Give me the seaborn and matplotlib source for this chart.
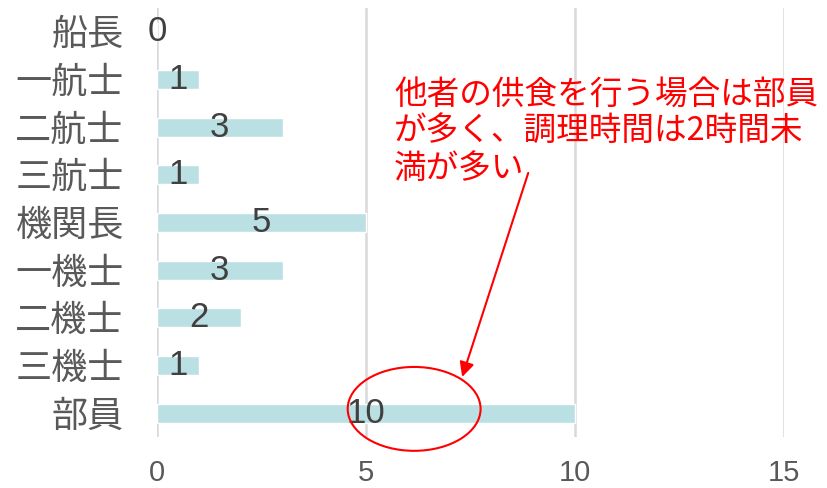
import matplotlib
matplotlib.use("Agg")
import matplotlib.pyplot as plt
from matplotlib.patches import Ellipse
import seaborn as sns
import pandas as pd

# Crew positions and how many of each cook for others
positions = ["船長", "一航士", "二航士", "三航士", "機関長", "一機士", "二機士", "三機士", "部員"]
counts = [0, 1, 3, 1, 5, 3, 2, 1, 10]
x_ticks = [0, 5, 10, 15]
note = "他者の供食を行う場合は部員\nが多く、調理時間は2時間未\n満が多い"

sns.set_theme(style="white")
plt.rcParams["font.family"] = ["Liberation Sans", "Noto Sans CJK JP", "DejaVu Sans"]

df = pd.DataFrame({"position": positions, "count": counts})

fig = plt.figure(figsize=(8.27, 4.88), dpi=100)
ax = fig.add_axes([0.19, 0.1045, 0.758, 0.879])

sns.barplot(data=df, x="count", y="position", orient="h", color="#bbe0e3",
            width=0.4, saturation=1, ax=ax)

ax.set_xlim(0, 15)
ax.set_ylim(len(positions) - 0.5, -0.5)
ax.set_xticks(x_ticks)
ax.set_xlabel("")
ax.set_ylabel("")
for s in ax.spines.values():
    s.set_visible(False)
ax.grid(axis="x", color="#d9d9d9", linewidth=1.8)
ax.grid(axis="y", visible=False)
ax.set_axisbelow(True)
ax.tick_params(axis="y", length=0, pad=24, labelsize=26, labelcolor="#595959")
ax.tick_params(axis="x", length=0, pad=16, labelsize=21, labelcolor="#595959")

ax.bar_label(ax.containers[0], labels=[str(v) for v in counts], label_type="center",
             fontsize=25, color="#404040")

# Highlight on the 部員 bar with a pointer from the note
ax.add_patch(Ellipse((6.15, 7.91), 3.18, 1.76, fill=False, edgecolor="red",
                     linewidth=1.5, clip_on=False, zorder=5))
ax.annotate("", xy=(7.3, 7.24), xytext=(8.88, 2.96),
            arrowprops=dict(arrowstyle="-|>", color="red", lw=1.5,
                            mutation_scale=22, shrinkA=0, shrinkB=0),
            annotation_clip=False, zorder=6)

fig.text(394 / 827, 1 - 79 / 488, note, ha="left", va="top", color="red",
         fontsize=23.5, linespacing=1.2,
         family=["Noto Sans CJK JP", "DejaVu Sans"])

fig.savefig("out.png", dpi=100)
